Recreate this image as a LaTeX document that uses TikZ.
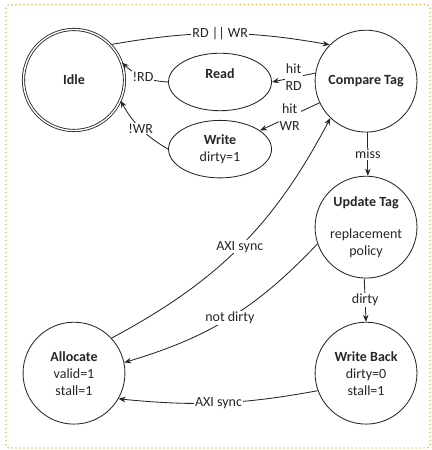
\documentclass[tikz,border=0pt]{standalone}
\usepackage{fontspec}
\setmainfont{Carlito}
\usetikzlibrary{shapes.geometric,arrows.meta,positioning}
\definecolor{frameorange}{RGB}{228,172,72}
\definecolor{inkgray}{RGB}{38,38,38}
\tikzset
{
    fsmstate/.style  = {circle, draw=inkgray, align=center, minimum size=3.58cm, inner sep=0pt},
    idlestate/.style = {circle, draw=inkgray, double, double distance=1.4pt, align=center, minimum size=3.55cm, inner sep=0pt},
    substate/.style  = {ellipse, draw=inkgray, align=center, minimum width=3.62cm, minimum height=2.02cm, inner sep=0pt},
    arrow/.style     = {->, >={Stealth[length=7pt, width=5.5pt]}, draw=inkgray},
    cond/.style      = {fill=white, inner sep=1pt, align=center},
    frame/.style     = {draw=frameorange, line width=1.2pt, dash pattern=on 1.2pt off 2.8pt, rounded corners=3pt}
}

\begin{document}
\begin{tikzpicture}[font=\fontsize{14}{17}\selectfont, line width=0.85pt, text=inkgray]
	 \newcommand\COLDX{10.26}
	 \newcommand\MIDDX{5.13}
	 \newcommand\ROWDY{5.13}

	 \useasboundingbox (-2.60, 2.81) rectangle (12.55, -13.00);
	 \draw[frame] (-2.39, 2.64) rectangle (12.51, -12.93);

   \node (idle)  [idlestate]                  at (0, 0)                             {\textbf{Idle}};
   \node (cmp)   [fsmstate]                   at ([shift=({\COLDX, -0.04})]idle)    {\textbf{Compare Tag}};
	 \node (rd)    [substate]                   at ([shift=({\MIDDX, -0.07})]idle)    {\textbf{Read}\\ ~};
	 \node (wr)    [substate]                   at ([shift=({\MIDDX, -2.43})]idle)    {\textbf{Write}\\dirty=1};
	 \node (upd)   [fsmstate]                   at ([shift=({0, -\ROWDY})]cmp)        {\textbf{Update Tag}\\[15pt]replacement\\policy};
	 \node (wb)    [fsmstate]                   at ([shift=({0, -2*\ROWDY})]cmp)      {\textbf{Write Back}\\dirty=0\\stall=1};
	 \node (alloc) [fsmstate]                   at ([shift=({0, -10.30})]idle)        {\textbf{Allocate}\\valid=1\\stall=1};

	 \path[every node/.style={cond}]
	    (idle.44)   edge[arrow, bend left=10]   node {RD || WR}   (cmp.135)
		  (cmp.171)   edge[arrow]                 node {hit\\RD}    (rd.east)
			(rd.west)   edge[arrow, bend left=20]   node {!RD}        (idle.20)
			(cmp.205)   edge[arrow]                 node {hit\\WR}    (wr.25)
			(wr.west)   edge[arrow, bend left=15]   node {!WR}        (idle.-24)
			(cmp.272)   edge[arrow]                 node {miss}       (upd.88)
			(upd.268)   edge[arrow]                 node {dirty}      (wb.90)
			(upd.199)   edge[arrow, bend left=15]   node {not dirty}  (alloc.12)
			(alloc.43)  edge[arrow, bend right=17]  node {AXI sync}   (cmp.226)
			(wb.200)    edge[arrow, bend left=8]    node {AXI sync}   (alloc.-30);
\end{tikzpicture}
\end{document}
